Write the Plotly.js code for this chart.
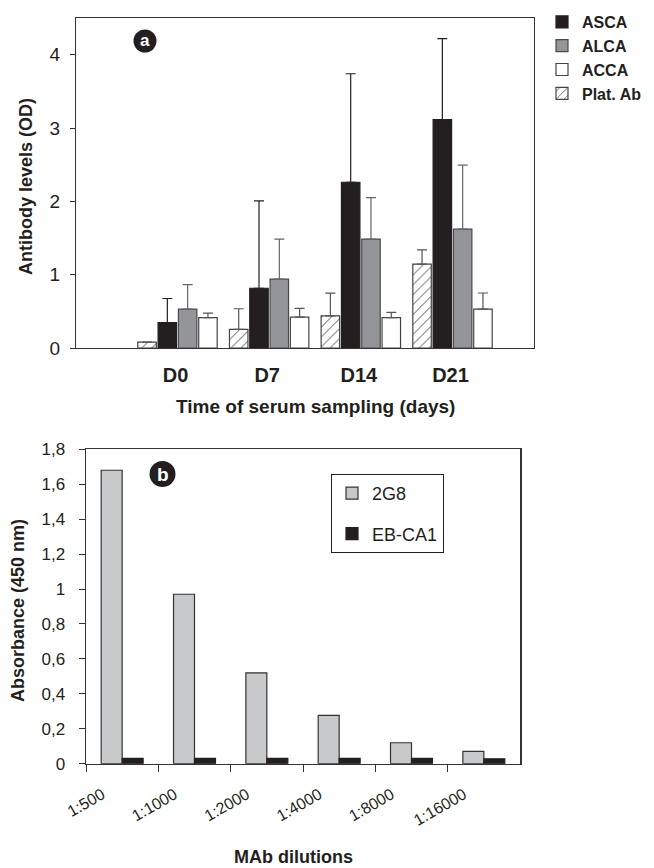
<!DOCTYPE html>
<html><head><meta charset="utf-8">
<script src="https://cdn.plot.ly/plotly-3.0.1.min.js"></script>
<style>html,body{margin:0;padding:0;background:#fff}#chart{width:654px;height:868px}</style>
</head><body><div id="chart"></div>
<script>
// ---- Panel a data ----
const days = ['D0', 'D7', 'D14', 'D21'];
const ascaMean = [0.345, 0.815, 2.26, 3.115];
const ascaErr  = [0.33, 1.19, 1.48, 1.105];
const alcaMean = [0.53, 0.94, 1.485, 1.62];
const alcaErr  = [0.335, 0.545, 0.565, 0.875];
const accaMean = [0.415, 0.42, 0.415, 0.53];
const accaErr  = [0.06, 0.12, 0.07, 0.22];
const platMean = [0.08, 0.255, 0.437, 1.143];
const platErr  = [0, 0.28, 0.31, 0.195];

// ---- Panel b data ----
const dilutions = ['1:500', '1:1000', '1:2000', '1:4000', '1:8000', '1:16000'];
const mab2G8   = [1.68, 0.97, 0.52, 0.277, 0.12, 0.07];
const mabEBCA1 = [0.03, 0.03, 0.03, 0.03, 0.03, 0.028];

const W = 654, H = 868;
const px = v => v / W, py = v => 1 - v / H;
const FONT = 'Liberation Sans, Arial, Helvetica, sans-serif';
const INK = '#231f20';

const BARGAP = 0.114, GROUPGAP = 0.09;
const nSeries = 4;
const slot = (1 - BARGAP) / nSeries;
const xRangeA = [-1.107, 3.889];
// tick marks under every bar of panel a, plus both ends of the axis
const barTicks = [xRangeA[0], xRangeA[1]];
days.forEach((d, i) => { for (let k = 0; k < nSeries; k++) barTicks.push(i + (k - (nSeries - 1) / 2) * slot); });

function errBar(arr, color) {
  return {type: 'data', array: arr, symmetric: false, color: color, thickness: 1.2, width: 5};
}

const traces = [
  {type: 'bar', name: 'Plat. Ab', x: days, y: platMean, xaxis: 'x', yaxis: 'y', legend: 'legend', legendrank: 4,
   marker: {color: 'white', line: {color: '#444', width: 1.2}, pattern: {shape: '/', fgcolor: '#333', bgcolor: 'white', size: 7, solidity: 0.12}},
   error_y: errBar(platErr, '#555')},
  {type: 'bar', name: 'ASCA', x: days, y: ascaMean, xaxis: 'x', yaxis: 'y', legend: 'legend', legendrank: 1,
   marker: {color: INK, line: {color: INK, width: 1.2}}, error_y: errBar(ascaErr, INK)},
  {type: 'bar', name: 'ALCA', x: days, y: alcaMean, xaxis: 'x', yaxis: 'y', legend: 'legend', legendrank: 2,
   marker: {color: '#939598', line: {color: '#4a4a4a', width: 1.2}}, error_y: errBar(alcaErr, '#666')},
  {type: 'bar', name: 'ACCA', x: days, y: accaMean, xaxis: 'x', yaxis: 'y', legend: 'legend', legendrank: 3,
   marker: {color: 'white', line: {color: '#444', width: 1.2}}, error_y: errBar(accaErr, '#555')},

  {type: 'bar', name: '2G8', x: dilutions, y: mab2G8, xaxis: 'x2', yaxis: 'y2', legend: 'legend2', legendgroup: 'g1',
   width: 0.29, offset: -0.29, marker: {color: '#c8c9cb', line: {color: '#333', width: 1.2}}},
  {type: 'bar', name: 'EB-CA1', x: dilutions, y: mabEBCA1, xaxis: 'x2', yaxis: 'y2', legend: 'legend2', legendgroup: 'g2',
   width: 0.29, offset: 0, marker: {color: INK, line: {color: INK, width: 1.2}}}
];

const layout = {
  width: W, height: H,
  margin: {l: 0, r: 0, t: 0, b: 0},
  paper_bgcolor: 'white', plot_bgcolor: 'white',
  separators: ',.',
  font: {family: FONT, color: INK},
  barmode: 'group', bargap: BARGAP, bargroupgap: GROUPGAP,
  showlegend: true,
  xaxis: {
    domain: [px(76), px(534)], anchor: 'y', type: 'category', range: xRangeA,
    showline: true, mirror: true, linecolor: '#333', linewidth: 1.2,
    ticks: '', showgrid: false, zeroline: false, automargin: false,
    tickfont: {size: 20, weight: 'bold', color: INK}, ticklabelstandoff: 9, ticklabelshift: -2, fixedrange: true
  },
  xaxis3: {
    overlaying: 'x', anchor: 'y', type: 'linear', range: xRangeA,
    tickmode: 'array', tickvals: barTicks, ticktext: barTicks.map(() => ''),
    ticks: 'outside', ticklen: 5, tickcolor: '#333', tickwidth: 1,
    showline: false, showgrid: false, zeroline: false, automargin: false, fixedrange: true
  },
  yaxis: {
    domain: [py(348), py(18)], anchor: 'x', range: [0, 4.5], tick0: 0, dtick: 1,
    ticks: 'outside', ticklen: 5, tickcolor: '#333',
    showline: true, mirror: true, linecolor: '#333', linewidth: 1.2,
    showgrid: false, zeroline: false, automargin: false,
    tickfont: {size: 19, color: INK}, ticklabelstandoff: 6, fixedrange: true
  },
  xaxis2: {
    domain: [px(86), px(520)], anchor: 'y2', type: 'category',
    tickson: 'boundaries', ticks: 'outside', ticklen: 7, tickcolor: '#333',
    showline: true, mirror: true, linecolor: '#333', linewidth: 1.5,
    showgrid: false, zeroline: false, automargin: false,
    tickangle: -30, tickfont: {size: 16, color: INK},
    ticklabelstandoff: 14, ticklabelshift: -20, fixedrange: true
  },
  yaxis2: {
    domain: [py(763.7), py(449.3)], anchor: 'x2', range: [0, 1.8], tick0: 0, dtick: 0.2,
    ticks: 'outside', ticklen: 6, tickcolor: '#333',
    showline: true, mirror: true, linecolor: '#333', linewidth: 1.5,
    showgrid: false, zeroline: false, automargin: false,
    tickfont: {size: 17, color: INK}, ticklabelstandoff: 10, fixedrange: true
  },
  legend: {
    x: px(542), y: py(5), xanchor: 'left', yanchor: 'top',
    font: {size: 16, weight: 'bold', color: INK}, bgcolor: 'rgba(0,0,0,0)', borderwidth: 0,
    itemwidth: 30, tracegroupgap: 0
  },
  legend2: {
    x: px(331), y: py(474), xanchor: 'left', yanchor: 'top',
    font: {size: 18, color: INK}, bgcolor: 'white', bordercolor: INK, borderwidth: 1,
    itemwidth: 30, tracegroupgap: 14, traceorder: 'grouped'
  },
  shapes: [
    {type: 'circle', xref: 'paper', yref: 'paper', xsizemode: 'pixel', ysizemode: 'pixel',
     xanchor: px(145), yanchor: py(41), x0: -11.5, x1: 11.5, y0: -11.5, y1: 11.5,
     fillcolor: INK, line: {width: 0}},
    {type: 'circle', xref: 'paper', yref: 'paper', xsizemode: 'pixel', ysizemode: 'pixel',
     xanchor: px(162.5), yanchor: py(474), x0: -13, x1: 13, y0: -13, y1: 13,
     fillcolor: INK, line: {width: 0}}
  ],
  annotations: [
    {text: 'a', xref: 'paper', yref: 'paper', x: px(145), y: py(41), showarrow: false,
     xanchor: 'center', yanchor: 'middle', font: {size: 17, weight: 'bold', color: 'white'}},
    {text: 'b', xref: 'paper', yref: 'paper', x: px(162.5), y: py(474), showarrow: false,
     xanchor: 'center', yanchor: 'middle', font: {size: 19, weight: 'bold', color: 'white'}},
    {text: 'Antibody levels (OD)', xref: 'paper', yref: 'paper', x: px(26), y: py(187), textangle: -90,
     showarrow: false, xanchor: 'center', yanchor: 'middle', font: {size: 18, weight: 'bold', color: INK}},
    {text: 'Time of serum sampling (days)', xref: 'paper', yref: 'paper', x: px(315), y: py(406), showarrow: false,
     xanchor: 'center', yanchor: 'middle', font: {size: 19, weight: 'bold', color: INK}},
    {text: 'Absorbance (450 nm)', xref: 'paper', yref: 'paper', x: px(18), y: py(611), textangle: -90,
     showarrow: false, xanchor: 'center', yanchor: 'middle', font: {size: 18, weight: 'bold', color: INK}},
    {text: 'MAb dilutions', xref: 'paper', yref: 'paper', x: px(293), y: py(857), showarrow: false,
     xanchor: 'center', yanchor: 'middle', font: {size: 18, weight: 'bold', color: INK}}
  ]
};

Plotly.newPlot('chart', traces, layout, {displayModeBar: false, staticPlot: true});
</script>
</body></html>
